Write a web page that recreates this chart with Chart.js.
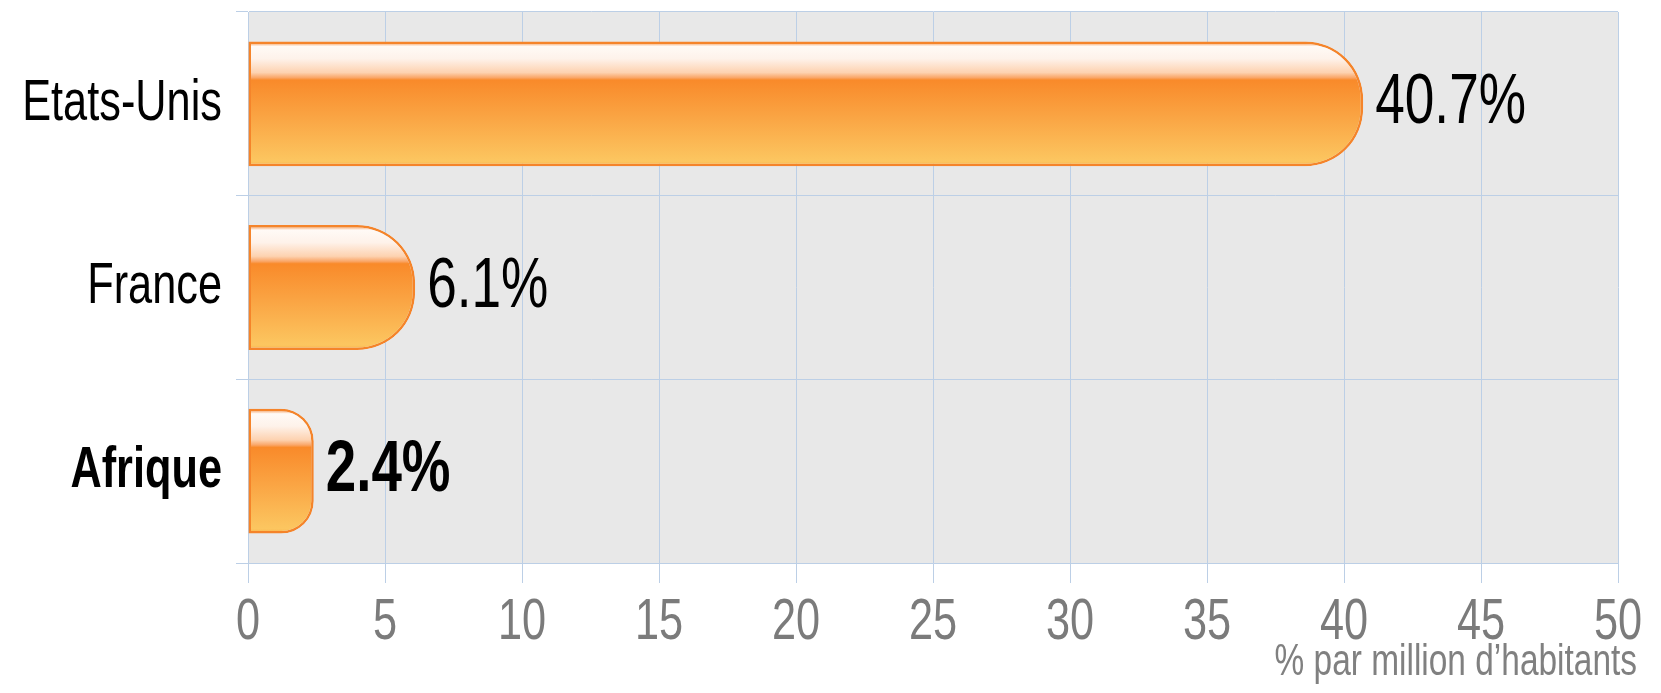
<!DOCTYPE html>
<html lang="fr">
<head>
<meta charset="utf-8">
<title>% par million d'habitants</title>
<script src="https://cdn.jsdelivr.net/npm/chart.js@4.4.1/dist/chart.umd.min.js"></script>
<style>
  html, body { margin: 0; padding: 0; background: #ffffff; }
  #wrap { width: 1661px; height: 693px; }
</style>
</head>
<body>
<div id="wrap"><canvas id="chart"></canvas></div>
<script>
// ── Data ──────────────────────────────────────────────────────────────────────
const categories  = ["Etats-Unis", "France", "Afrique"];
const values      = [40.7, 6.1, 2.4];
const valueLabels = ["40.7%", "6.1%", "2.4%"];
const boldRows    = [false, false, true];   // "Afrique" row is set in bold
const xMin = 0, xMax = 50, xStep = 5;
const axisNote = "% par million d\u2019habitants";

const FONT     = "'Liberation Sans', Arial, sans-serif";
const NARROW   = 0.76;                      // no condensed face installed: squeeze text
const GRID     = "#bccfe6";
const PLOT_BG  = "#e8e8e8";
const CAT_PCT  = 0.68;

// Glossy orange fill, built per bar from the category scale
function barFill(ctx) {
  const chart = ctx.chart;
  const area = chart.chartArea;
  const y = chart.scales && chart.scales.y;
  if (!area || !y) return "#f98c2c";
  const centre = y.getPixelForValue(ctx.dataIndex);
  const half = (area.bottom - area.top) / categories.length * CAT_PCT / 2;
  const g = chart.ctx.createLinearGradient(0, centre - half, 0, centre + half);
  g.addColorStop(0.00, "#f47b22");
  g.addColorStop(0.04, "#fffaf6");
  g.addColorStop(0.14, "#fef2ea");
  g.addColorStop(0.25, "#fdd2b0");
  g.addColorStop(0.29, "#faa769");
  g.addColorStop(0.31, "#f98a2a");
  g.addColorStop(0.60, "#faa443");
  g.addColorStop(0.96, "#fcc660");
  g.addColorStop(1.00, "#f9b24c");
  return g;
}

// ── Plugins ───────────────────────────────────────────────────────────────────
// Condensed look: every fillText gets a maxWidth a bit under its natural width
const condensedText = {
  id: "condensedText",
  beforeDraw(chart) {
    const c = chart.ctx;
    if (c._narrowed) return;
    const fill = c.fillText;
    c.fillText = function (text, x, y, maxWidth) {
      const w = this.measureText(text).width * NARROW;
      return fill.call(this, text, x, y, maxWidth === undefined ? w : Math.min(maxWidth, w));
    };
    c._narrowed = true;
  },
};

const plotBackground = {
  id: "plotBackground",
  beforeDraw(chart) {
    const { ctx, chartArea: a } = chart;
    ctx.save();
    ctx.fillStyle = PLOT_BG;
    ctx.fillRect(a.left, a.top, a.right - a.left, a.bottom - a.top);
    ctx.restore();
  },
};

const valueTags = {
  id: "valueTags",
  afterDatasetsDraw(chart) {
    const { ctx } = chart;
    const meta = chart.getDatasetMeta(0);
    ctx.save();
    ctx.fillStyle = "#000000";
    ctx.textAlign = "left";
    ctx.textBaseline = "middle";
    meta.data.forEach((bar, i) => {
      ctx.font = (boldRows[i] ? "bold 72px " : "70px ") + FONT;
      ctx.fillText(valueLabels[i], bar.x + 12, bar.y);
    });
    ctx.restore();
  },
};

// ── Chart ─────────────────────────────────────────────────────────────────────
new Chart(document.getElementById("chart"), {
  type: "bar",
  data: {
    labels: categories,
    datasets: [
      {
        data:               values,
        backgroundColor:    barFill,
        borderColor:        "#f5842a",
        borderWidth:        2.5,
        borderSkipped:      false,
        borderRadius:       { topLeft: 0, bottomLeft: 0, topRight: 58, bottomRight: 58 },
        categoryPercentage: CAT_PCT,
        barPercentage:      1,
      },
    ],
  },
  options: {
    indexAxis: "y",
    responsive: true,
    maintainAspectRatio: false,
    animation: false,
    layout: { padding: { left: 0, top: 12, right: 24, bottom: 0 } },
    plugins: {
      legend:  { display: false },
      tooltip: { enabled: false },
      title: {
        display:  true,
        text:     axisNote,
        position: "bottom",
        align:    "end",
        color:    "#808080",
        font:     { family: FONT, size: 44, weight: "normal", lineHeight: 1 },
        padding:  { top: 0, bottom: 8 },
      },
    },
    scales: {
      x: {
        min: xMin,
        max: xMax,
        ticks: {
          stepSize: xStep,
          color:    "#7b7b7b",
          font:     { family: FONT, size: 57 },
          padding:  6,
        },
        grid:   { color: GRID, lineWidth: 1, tickLength: 20 },
        border: { color: GRID },
        afterFit: (s) => {
          s.height = 78;
          s.paddingLeft = 0;
          s.paddingRight = 43;
        },
      },
      y: {
        offset: true,
        ticks: {
          color:   "#000000",
          padding: 14,
          font:    (c) => ({
            family: FONT,
            size:   57,
            weight: boldRows[c.index] ? "bold" : "normal",
          }),
        },
        grid:   { color: GRID, lineWidth: 1, offset: true, tickLength: 12 },
        border: { color: GRID },
        afterFit: (s) => {
          s.width = 248;
          s.paddingTop = 0;
          s.paddingBottom = 0;
        },
      },
    },
  },
  plugins: [condensedText, plotBackground, valueTags],
});
</script>
</body>
</html>
